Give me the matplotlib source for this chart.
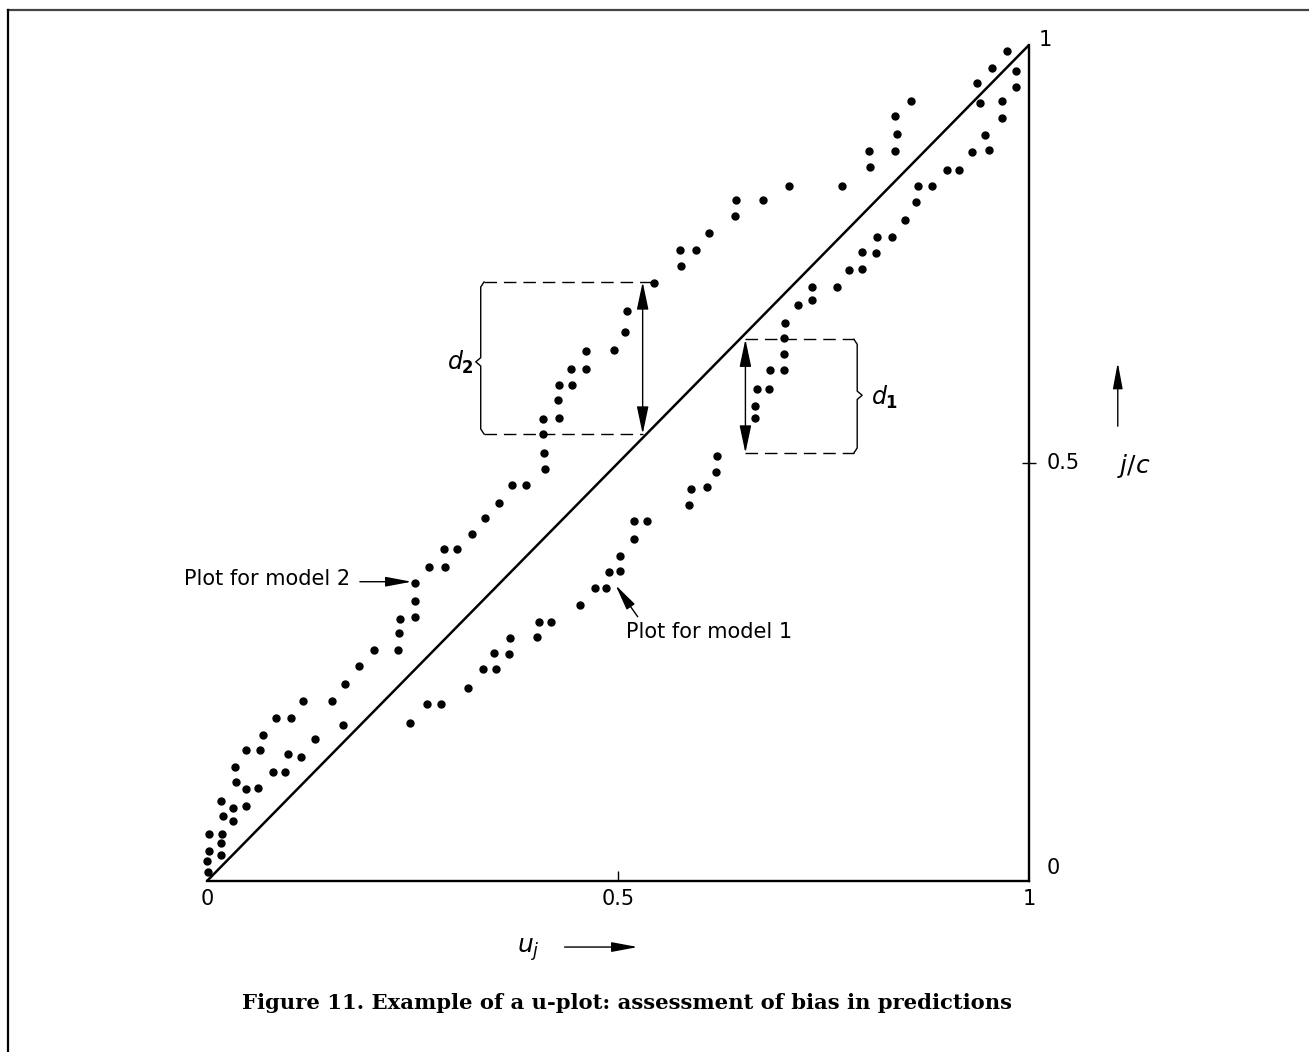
import matplotlib
matplotlib.use("Agg")
import matplotlib.pyplot as plt
from matplotlib.lines import Line2D

# ---- data (u_j, j/c) ----
model2_u = [0.001, 0.000, 0.002, 0.002, 0.019, 0.017, 0.035, 0.034, 0.047, 0.064,
            0.068, 0.084, 0.102, 0.117, 0.152, 0.168, 0.185, 0.203, 0.232, 0.234,
            0.235, 0.253, 0.253, 0.253, 0.270, 0.290, 0.288, 0.304, 0.322, 0.338,
            0.355, 0.371, 0.388, 0.411, 0.410, 0.409, 0.409, 0.428, 0.427, 0.428,
            0.444, 0.443, 0.461, 0.461, 0.495, 0.509, 0.511, 0.544, 0.577, 0.575,
            0.595, 0.611, 0.642, 0.644, 0.676, 0.708, 0.773, 0.807, 0.805, 0.837,
            0.839, 0.837, 0.856, 0.937, 0.955, 0.973]
model2_v = [0.011, 0.024, 0.036, 0.056, 0.078, 0.096, 0.118, 0.136, 0.157, 0.157,
            0.175, 0.195, 0.195, 0.215, 0.215, 0.236, 0.257, 0.276, 0.276, 0.297,
            0.313, 0.316, 0.335, 0.356, 0.376, 0.376, 0.397, 0.397, 0.415, 0.434,
            0.452, 0.474, 0.474, 0.493, 0.512, 0.535, 0.553, 0.554, 0.575, 0.593,
            0.593, 0.612, 0.612, 0.634, 0.635, 0.657, 0.682, 0.715, 0.736, 0.755,
            0.755, 0.775, 0.795, 0.815, 0.815, 0.831, 0.831, 0.854, 0.873, 0.873,
            0.894, 0.915, 0.933, 0.955, 0.972, 0.993]

model1_u = [0.017, 0.017, 0.018, 0.032, 0.032, 0.047, 0.047, 0.062, 0.080, 0.095,
            0.099, 0.114, 0.131, 0.165, 0.247, 0.268, 0.285, 0.318, 0.336, 0.352,
            0.349, 0.367, 0.369, 0.401, 0.404, 0.418, 0.454, 0.472, 0.485, 0.489,
            0.502, 0.502, 0.519, 0.519, 0.535, 0.586, 0.589, 0.608, 0.619, 0.620,
            0.667, 0.667, 0.669, 0.684, 0.685, 0.702, 0.702, 0.702, 0.703, 0.719,
            0.736, 0.736, 0.766, 0.781, 0.797, 0.797, 0.814, 0.815, 0.833, 0.849,
            0.863, 0.865, 0.882, 0.900, 0.915, 0.931, 0.951, 0.946, 0.967, 0.940,
            0.967, 0.984, 0.984]
model1_v = [0.031, 0.045, 0.056, 0.072, 0.087, 0.090, 0.110, 0.111, 0.130, 0.130,
            0.152, 0.148, 0.170, 0.187, 0.189, 0.212, 0.212, 0.231, 0.254, 0.254,
            0.273, 0.272, 0.291, 0.292, 0.310, 0.310, 0.330, 0.350, 0.350, 0.370,
            0.371, 0.389, 0.409, 0.431, 0.431, 0.450, 0.469, 0.471, 0.489, 0.508,
            0.554, 0.568, 0.589, 0.589, 0.611, 0.611, 0.630, 0.650, 0.667, 0.689,
            0.695, 0.711, 0.711, 0.731, 0.732, 0.752, 0.751, 0.770, 0.770, 0.791,
            0.812, 0.831, 0.831, 0.850, 0.850, 0.872, 0.874, 0.892, 0.913, 0.931,
            0.933, 0.950, 0.969]

x_ticks = [0, 0.5, 1]
x_tick_labels = ["0", "0.5", "1"]
y_ticks = [0, 0.5, 1]
y_tick_labels = ["0", "0.5", "1"]

caption = "Figure 11. Example of a u-plot: assessment of bias in predictions"

# ---- figure ----
W, H = 1309, 1052
fig = plt.figure(figsize=(W / 100, H / 100), dpi=100)
fig.patch.set_facecolor("white")
ax = fig.add_axes([207 / W, (H - 881) / H, 822 / W, 836 / H])
ax.set_xlim(0, 1)
ax.set_ylim(0, 1)

SANS = "DejaVu Sans"
FS = 15

# page border (top and left)
fig.add_artist(Line2D([8 / W, 1], [1 - 10 / H, 1 - 10 / H], color="#444444", lw=1.6,
                      transform=fig.transFigure))
fig.add_artist(Line2D([8 / W, 8 / W], [1 - 10 / H, 0], color="black", lw=1.6,
                      transform=fig.transFigure))

# spines
for s in ("left", "top"):
    ax.spines[s].set_visible(False)
for s in ("bottom", "right"):
    ax.spines[s].set_linewidth(1.7)
    ax.spines[s].set_color("black")

# ticks
ax.set_xticks(x_ticks)
ax.set_xticklabels(x_tick_labels, fontsize=FS, family=SANS)
ax.tick_params(axis="x", direction="in", length=7, width=1.0, pad=6)
for i, t in enumerate(ax.xaxis.get_major_ticks()):
    if i != 1:
        t.tick1line.set_visible(False)
ax.yaxis.tick_right()
ax.set_yticks(y_ticks)
ax.set_yticklabels([])
ax.tick_params(axis="y", direction="inout", length=10, width=1.0)
for i, t in enumerate(ax.yaxis.get_major_ticks()):
    if i != 1:
        t.tick2line.set_visible(False)
# right-side labels
ax.text(1.022, 0.016, y_tick_labels[0], fontsize=FS, family=SANS, va="center", ha="left")
ax.text(1.022, 0.5, y_tick_labels[1], fontsize=FS, family=SANS, va="center", ha="left")
ax.text(1.012, 1.006, y_tick_labels[2], fontsize=FS, family=SANS, va="center", ha="left")

# diagonal
ax.plot([0, 1], [0, 1], color="black", lw=1.8, solid_capstyle="butt", clip_on=False)

# points
ax.plot(model2_u, model2_v, "o", color="black", ms=5.0, clip_on=False)
ax.plot(model1_u, model1_v, "o", color="black", ms=5.0, clip_on=False)

dash = (0, (9, 5))
arrow_dbl = dict(arrowstyle="<|-|>,head_length=1.7,head_width=0.36", color="black",
                 lw=1.0, shrinkA=0, shrinkB=0, mutation_scale=10)
arrow_one = dict(arrowstyle="-|>,head_length=1.6,head_width=0.3", color="black",
                 lw=1.0, shrinkA=0, shrinkB=0, mutation_scale=10)

# d2 construction
d2_top, d2_bot, d2_left, d2_arrow_x = 0.7165, 0.5347, 0.333, 0.530
ax.plot([d2_left + 0.004, 0.545], [d2_top, d2_top], color="black", lw=1.0, ls=dash, clip_on=False)
ax.plot([d2_left + 0.004, d2_arrow_x], [d2_bot, d2_bot], color="black", lw=1.0, ls=dash, clip_on=False)
ax.plot([d2_left + 0.004, d2_left, d2_left, d2_left - 0.006, d2_left, d2_left, d2_left + 0.004],
        [d2_top, d2_top - 0.006, 0.626, 0.621, 0.616, d2_bot + 0.006, d2_bot],
        color="black", lw=1.0, clip_on=False)
ax.annotate("", xy=(d2_arrow_x, d2_top), xytext=(d2_arrow_x, d2_bot), arrowprops=arrow_dbl,
            annotation_clip=False)
ax.text(0.308, 0.620, r"$\mathit{d}_{\mathbf{2}}$", fontsize=17, ha="center", va="center")

# d1 construction
d1_top, d1_bot, d1_right, d1_arrow_x = 0.648, 0.512, 0.791, 0.655
ax.plot([d1_arrow_x, d1_right - 0.004], [d1_top, d1_top], color="black", lw=1.0, ls=dash, clip_on=False)
ax.plot([d1_arrow_x, d1_right - 0.004], [d1_bot, d1_bot], color="black", lw=1.0, ls=dash, clip_on=False)
ax.plot([d1_right - 0.004, d1_right, d1_right, d1_right + 0.006, d1_right, d1_right, d1_right - 0.004],
        [d1_top, d1_top - 0.006, 0.586, 0.581, 0.576, d1_bot + 0.006, d1_bot],
        color="black", lw=1.0, clip_on=False)
ax.annotate("", xy=(d1_arrow_x, d1_top), xytext=(d1_arrow_x, d1_bot), arrowprops=arrow_dbl,
            annotation_clip=False)
ax.text(0.808, 0.578, r"$\mathit{d}_{\mathbf{1}}$", fontsize=17, ha="left", va="center")

# model labels
ax.text(-0.028, 0.361, "Plot for model 2", fontsize=FS, family=SANS, ha="left", va="center")
ax.annotate("", xy=(0.249, 0.358), xytext=(0.186, 0.358), arrowprops=arrow_one,
            annotation_clip=False)
ax.text(0.510, 0.298, "Plot for model 1", fontsize=FS, family=SANS, ha="left", va="center")
ax.annotate("", xy=(0.497, 0.354), xytext=(0.524, 0.316), arrowprops=arrow_one,
            annotation_clip=False)

# axis titles
ax.text(0.391, -0.082, r"$u_j$", fontsize=18, ha="center", va="center")
ax.annotate("", xy=(0.524, -0.079), xytext=(0.435, -0.079), arrowprops=arrow_one,
            annotation_clip=False)
ax.text(1.127, 0.497, r"$j/c$", fontsize=18, ha="center", va="center")
ax.annotate("", xy=(1.108, 0.620), xytext=(1.108, 0.544), arrowprops=arrow_one,
            annotation_clip=False)

# caption
fig.text(627 / W, 1 - 1003 / H, caption, fontsize=15.2, family="DejaVu Serif",
         fontweight="bold", ha="center", va="center")

fig.savefig("out.png", dpi=100, facecolor="white")
